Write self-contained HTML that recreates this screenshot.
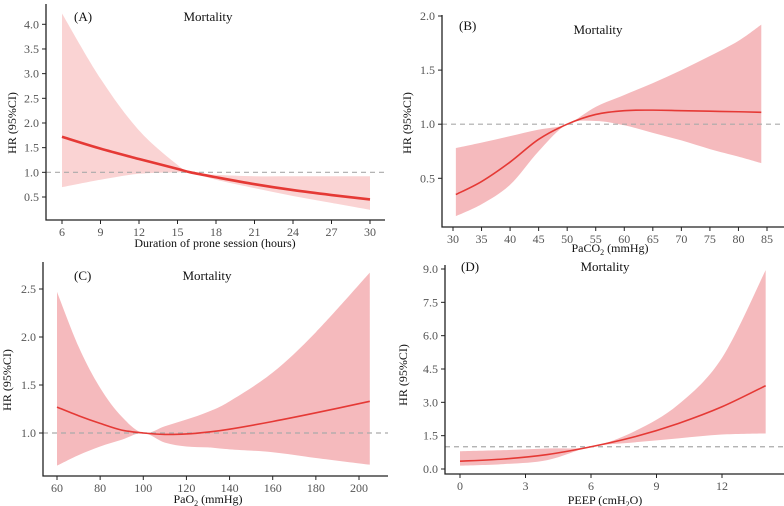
<!DOCTYPE html>
<html><head><meta charset="utf-8"><style>
html,body{margin:0;padding:0;background:#fff;}
svg{display:block;font-family:"Liberation Serif",serif;}
</style></head><body>
<svg id="chart" width="784" height="506" viewBox="0 0 784 506"></svg>
<script>
// Panel A data
const aX=[6,9,12,15,16,18,21,24,27,30];
const aHR=[1.72,1.48,1.27,1.07,1.0,0.9,0.76,0.64,0.54,0.45];
const aUp=[4.22,2.9,1.85,1.15,1.0,0.95,0.92,0.92,0.92,0.92];
const aLo=[0.7,0.85,0.97,1.0,1.0,0.85,0.68,0.52,0.38,0.24];
const aXTicks=[6,9,12,15,18,21,24,27,30];
const aYTicks=[0.5,1.0,1.5,2.0,2.5,3.0,3.5,4.0];
// Panel B data
const bX=[30.5,35,40,45,50,55,60,65,70,75,80,84];
const bHR=[0.35,0.47,0.65,0.86,1.0,1.09,1.125,1.13,1.125,1.12,1.115,1.11];
const bUp=[0.78,0.83,0.89,0.95,1.0,1.16,1.27,1.38,1.5,1.63,1.77,1.92];
const bLo=[0.15,0.26,0.44,0.75,1.0,1.03,0.99,0.92,0.85,0.77,0.7,0.64];
const bXTicks=[30,35,40,45,50,55,60,65,70,75,80,85];
const bYTicks=[0.5,1.0,1.5,2.0];
// Panel C data
const cX=[60,70,80,90,100,110,120,130,140,160,180,205];
const cHR=[1.27,1.18,1.1,1.03,1.0,0.985,0.99,1.01,1.04,1.12,1.21,1.33];
const cUp=[2.47,1.9,1.47,1.17,1.0,1.07,1.14,1.22,1.33,1.63,2.05,2.67];
const cLo=[0.66,0.77,0.86,0.93,1.0,0.9,0.86,0.85,0.83,0.8,0.74,0.67];
const cXTicks=[60,80,100,120,140,160,180,200];
const cYTicks=[1.0,1.5,2.0,2.5];
// Panel D data
const dX=[0,2,4,6,8,10,12,14];
const dHR=[0.35,0.45,0.65,1.0,1.45,2.05,2.8,3.75];
const dUp=[0.8,0.85,0.92,1.0,1.7,2.9,5.0,8.95];
const dLo=[0.15,0.22,0.4,1.0,1.2,1.38,1.55,1.6];
const dXTicks=[0,3,6,9,12];
const dYTicks=[0.0,1.5,3.0,4.5,6.0,7.5,9.0];

const NS="http://www.w3.org/2000/svg";
const svg=document.getElementById('chart');
function mk(tag,attrs,parent){const e=document.createElementNS(NS,tag);for(const k in attrs)e.setAttribute(k,attrs[k]);(parent||svg).appendChild(e);return e;}
function smooth(pts){let d='M'+pts[0][0]+','+pts[0][1];for(let i=0;i<pts.length-1;i++){const p0=pts[i-1]||pts[i],p1=pts[i],p2=pts[i+1],p3=pts[i+2]||p2;const c1x=p1[0]+(p2[0]-p0[0])/6,c1y=p1[1]+(p2[1]-p0[1])/6,c2x=p2[0]-(p3[0]-p1[0])/6,c2y=p2[1]-(p3[1]-p1[1])/6;d+=' C'+c1x+','+c1y+' '+c2x+','+c2y+' '+p2[0]+','+p2[1];}return d;}
function smoothRev(pts){return smooth(pts.slice().reverse()).replace(/^M/,' L');}

function panel(o){
  const g=mk('g',{});
  
  
  const sx=v=>o.x0px+(v-o.x0)*(o.x1px-o.x0px)/(o.x1-o.x0);
  const sy=v=>o.y0px+(v-o.y0)*(o.y1px-o.y0px)/(o.y1-o.y0);
  const up=o.xs.map((x,i)=>[sx(x),sy(o.up[i])]);
  const lo=o.xs.map((x,i)=>[sx(x),sy(o.lo[i])]);
  const band=mk('path',{d:smooth(up)+smoothRev(lo)+' Z',fill:o.band,stroke:'none'},g);
  
  
  const ref=mk('line',{x1:o.axX,x2:o.right,y1:sy(1),y2:sy(1),stroke:'#aaa','stroke-width':1.2,'stroke-dasharray':'5,4'},g);
  
  
  const ln=mk('path',{d:smooth(o.xs.map((x,i)=>[sx(x),sy(o.hr[i])])),fill:'none',stroke:'#e53935','stroke-width':o.lw},g);
  
  
  const ax=mk('path',{d:'M'+o.axX+','+o.top+' L'+o.axX+','+o.axY+' L'+o.right+','+o.axY,fill:'none',stroke:'#222','stroke-width':1.3},g);
  
  
  o.xt.forEach(t=>{mk('line',{x1:sx(t),x2:sx(t),y1:o.axY,y2:o.axY+4,stroke:'#222'},g);
    const tx=mk('text',{x:sx(t),y:o.axY+16,'text-anchor':'middle','font-size':12,fill:'#555'},g);tx.textContent=t;
    
    });
  o.yt.forEach(t=>{mk('line',{x1:o.axX-4,x2:o.axX,y1:sy(t),y2:sy(t),stroke:'#222'},g);
    const tx=mk('text',{x:o.axX-7,y:sy(t)+4,'text-anchor':'end','font-size':12,fill:'#555'},g);tx.textContent=t.toFixed(1);
    
    });
  const ti=mk('text',{x:o.titleX,y:o.titleY,'text-anchor':'middle','font-size':13,fill:'#111'},g);ti.textContent='Mortality';
  
  
  const lb=mk('text',{x:o.labX,y:o.titleY+(o.labDy||0),'font-size':13,fill:'#111'},g);lb.textContent='('+o.id+')';
  
  
  const xl=mk('text',{x:o.xlX,y:o.xlY,'text-anchor':'middle','font-size':12,fill:'#111'},g);xl.innerHTML=o.xlab;
  
  
  const yl=mk('text',{x:o.ylX,y:o.ylY,'text-anchor':'middle','font-size':12,fill:'#111',transform:'rotate(-90 '+o.ylX+' '+o.ylY+')'},g);yl.textContent='HR (95%CI)';
  
  
}
panel({id:'A',xs:aX,hr:aHR,up:aUp,lo:aLo,xt:aXTicks,yt:aYTicks,x0:6,x1:30,x0px:62,x1px:370,y0:0.5,y1:4.0,y0px:197,y1px:24.3,
  axX:46,axY:220,top:4,right:385,band:'#fad3d3',lw:2.6,titleX:208,titleY:21,labX:74,xlX:215,xlY:247,xlab:'Duration of prone session (hours)',ylX:16,ylY:123});
panel({id:'B',xs:bX,hr:bHR,up:bUp,lo:bLo,xt:bXTicks,yt:bYTicks,x0:30,x1:85,x0px:453,x1px:767,y0:0.5,y1:2.0,y0px:178.3,y1px:16,
  axX:442,axY:227,top:15,right:784,band:'#f5babd',lw:1.6,titleX:598,titleY:34,labX:459,labDy:-4,xlX:610,xlY:252,xlab:'PaCO<tspan font-size="8" dy="3">2</tspan><tspan dy="-3"> (mmHg)</tspan>',ylX:411,ylY:123});
panel({id:'C',xs:cX,hr:cHR,up:cUp,lo:cLo,xt:cXTicks,yt:cYTicks,x0:60,x1:200,x0px:57,x1px:359,y0:1.0,y1:2.5,y0px:433,y1px:289,
  axX:43,axY:476,top:262,right:388,band:'#f5babd',lw:1.6,titleX:207,titleY:280,labX:74,xlX:208,xlY:503,xlab:'PaO<tspan font-size="8" dy="3">2</tspan><tspan dy="-3"> (mmHg)</tspan>',ylX:11,ylY:380});
panel({id:'D',xs:dX,hr:dHR,up:dUp,lo:dLo,xt:dXTicks,yt:dYTicks,x0:0,x1:12,x0px:460,x1px:722,y0:0,y1:9,y0px:469,y1px:269,
  axX:445,axY:474,top:265,right:784,band:'#f5babd',lw:1.6,titleX:605,titleY:271,labX:461,xlX:605,xlY:504,xlab:'PEEP  (cmH<tspan font-size="8" dy="3">2</tspan><tspan dy="-3">O)</tspan>',ylX:407,ylY:375});
</script>
</body></html>
